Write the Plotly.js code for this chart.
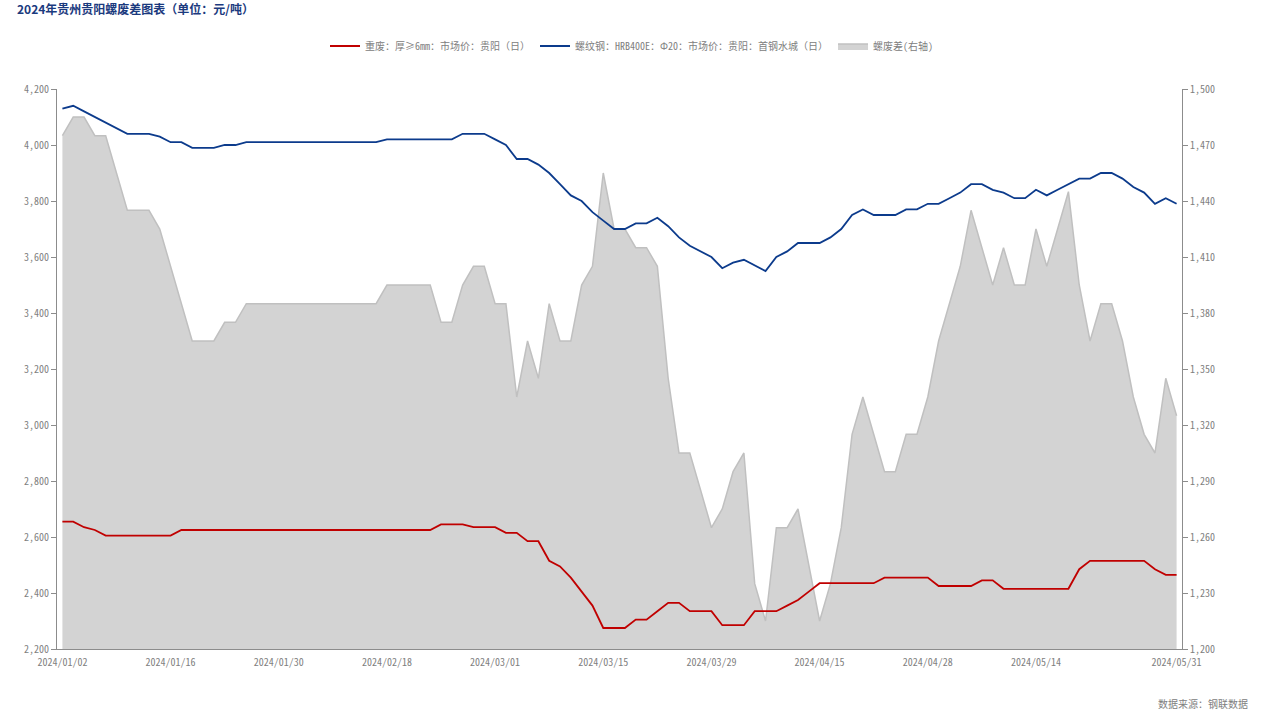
<!DOCTYPE html>
<html>
<head>
<meta charset="utf-8">
<script src="https://cdn.plot.ly/plotly-3.0.1.min.js"></script>
<style>
html, body { margin: 0; padding: 0; background: #ffffff; }
#chart { width: 1265px; height: 717px; }
</style>
</head>
<body>
<div id="chart"></div>
<script>
// ---- data ----
const dates = [
  '2024/01/02','2024/01/03','2024/01/04','2024/01/05','2024/01/08','2024/01/09','2024/01/10','2024/01/11','2024/01/12','2024/01/15',
  '2024/01/16','2024/01/17','2024/01/18','2024/01/19','2024/01/22','2024/01/23','2024/01/24','2024/01/25','2024/01/26','2024/01/29',
  '2024/01/30','2024/01/31','2024/02/01','2024/02/02','2024/02/04','2024/02/05','2024/02/06','2024/02/07','2024/02/08','2024/02/09',
  '2024/02/18','2024/02/19','2024/02/20','2024/02/21','2024/02/22','2024/02/23','2024/02/26','2024/02/27','2024/02/28','2024/02/29',
  '2024/03/01','2024/03/04','2024/03/05','2024/03/06','2024/03/07','2024/03/08','2024/03/11','2024/03/12','2024/03/13','2024/03/14',
  '2024/03/15','2024/03/18','2024/03/19','2024/03/20','2024/03/21','2024/03/22','2024/03/25','2024/03/26','2024/03/27','2024/03/28',
  '2024/03/29','2024/04/01','2024/04/02','2024/04/03','2024/04/07','2024/04/08','2024/04/09','2024/04/10','2024/04/11','2024/04/12',
  '2024/04/15','2024/04/16','2024/04/17','2024/04/18','2024/04/19','2024/04/22','2024/04/23','2024/04/24','2024/04/25','2024/04/26',
  '2024/04/28','2024/04/29','2024/04/30','2024/05/06','2024/05/07','2024/05/08','2024/05/09','2024/05/10','2024/05/11','2024/05/13',
  '2024/05/14','2024/05/15','2024/05/16','2024/05/17','2024/05/20','2024/05/21','2024/05/22','2024/05/23','2024/05/24','2024/05/27',
  '2024/05/28','2024/05/29','2024/05/30','2024/05/31'
];

// 重废：厚≥6mm：市场价：贵阳（日）
const scrapPrice = [
  2655,2655,2635,2625,2605,2605,2605,2605,2605,2605,
  2605,2625,2625,2625,2625,2625,2625,2625,2625,2625,
  2625,2625,2625,2625,2625,2625,2625,2625,2625,2625,
  2625,2625,2625,2625,2625,2645,2645,2645,2635,2635,
  2635,2615,2615,2585,2585,2515,2495,2455,2405,2355,
  2275,2275,2275,2305,2305,2335,2365,2365,2335,2335,
  2335,2285,2285,2285,2335,2335,2335,2355,2375,2405,
  2435,2435,2435,2435,2435,2435,2455,2455,2455,2455,
  2455,2425,2425,2425,2425,2445,2445,2415,2415,2415,
  2415,2415,2415,2415,2485,2515,2515,2515,2515,2515,
  2515,2485,2465,2465
];

// 螺纹钢：HRB400E：Φ20：市场价：贵阳：首钢水城（日）
const rebarPrice = [
  4130,4140,4120,4100,4080,4060,4040,4040,4040,4030,
  4010,4010,3990,3990,3990,4000,4000,4010,4010,4010,
  4010,4010,4010,4010,4010,4010,4010,4010,4010,4010,
  4020,4020,4020,4020,4020,4020,4020,4040,4040,4040,
  4020,4000,3950,3950,3930,3900,3860,3820,3800,3760,
  3730,3700,3700,3720,3720,3740,3710,3670,3640,3620,
  3600,3560,3580,3590,3570,3550,3600,3620,3650,3650,
  3650,3670,3700,3750,3770,3750,3750,3750,3770,3770,
  3790,3790,3810,3830,3860,3860,3840,3830,3810,3810,
  3840,3820,3840,3860,3880,3880,3900,3900,3880,3850,
  3830,3790,3810,3790
];

// 螺废差(右轴)
const spread = [
  1475,1485,1485,1475,1475,1455,1435,1435,1435,1425,
  1405,1385,1365,1365,1365,1375,1375,1385,1385,1385,
  1385,1385,1385,1385,1385,1385,1385,1385,1385,1385,
  1395,1395,1395,1395,1395,1375,1375,1395,1405,1405,
  1385,1385,1335,1365,1345,1385,1365,1365,1395,1405,
  1455,1425,1425,1415,1415,1405,1345,1305,1305,1285,
  1265,1275,1295,1305,1235,1215,1265,1265,1275,1245,
  1215,1235,1265,1315,1335,1315,1295,1295,1315,1315,
  1335,1365,1385,1405,1435,1415,1395,1415,1395,1395,
  1425,1405,1425,1445,1395,1365,1385,1385,1365,1335,
  1315,1305,1345,1325
];

const seriesNames = [
  '重废：厚≥6mm：市场价：贵阳（日）',
  '螺纹钢：HRB400E：Φ20：市场价：贵阳：首钢水城（日）',
  '螺废差(右轴)'
];

// date labels shown on the x axis (every 10th trading day, plus the last day)
const xTickLabels = ['2024/01/02','2024/01/16','2024/01/30','2024/02/18','2024/03/01','2024/03/15',
                     '2024/03/29','2024/04/15','2024/04/28','2024/05/14','2024/05/31'];

const titleText = '2024年贵州贵阳螺废差图表（单位：元/吨）';
const sourceText = '数据来源：钢联数据';

// ---- styling ----
const monoFont = "'Noto Sans Mono CJK SC', 'DejaVu Sans Mono', monospace";
const cjkFont = "'Noto Sans Mono CJK SC', 'Noto Sans CJK SC', 'DejaVu Sans Mono', sans-serif";
const grey = '#808080';
const axisGrey = '#8c8c8c';

// tick marks between categories every 10 trading days
const boundaryTicks = [];
for (let i = 10; i < dates.length; i += 10) boundaryTicks.push(i - 0.5);

// The spread area sits on the base subplot (right axis = 'y'),
// price lines sit on the overlaid left axis ('y2') so they draw on top.
const traces = [
  {
    type: 'scatter', mode: 'lines', name: seriesNames[2],
    x: dates, y: spread, yaxis: 'y', xaxis: 'x',
    fill: 'tozeroy', fillcolor: 'rgb(211,211,211)',
    line: { color: 'rgb(192,192,192)', width: 1.5 },
    legendrank: 3, hoverinfo: 'skip'
  },
  {
    type: 'scatter', mode: 'lines', name: seriesNames[0],
    x: dates, y: scrapPrice, yaxis: 'y2', xaxis: 'x',
    line: { color: '#c00000', width: 1.8 },
    legendrank: 1, hoverinfo: 'skip'
  },
  {
    type: 'scatter', mode: 'lines', name: seriesNames[1],
    x: dates, y: rebarPrice, yaxis: 'y2', xaxis: 'x',
    line: { color: '#0c3b8c', width: 1.8 },
    legendrank: 2, hoverinfo: 'skip'
  }
];

const layout = {
  width: 1265, height: 717,
  paper_bgcolor: '#ffffff', plot_bgcolor: '#ffffff',
  margin: { l: 57, r: 83, t: 89, b: 68, pad: 0 },
  showlegend: true,
  hovermode: false,
  title: {
    text: titleText,
    x: 17 / 1265, xref: 'container', xanchor: 'left',
    y: 1 - 10 / 717, yref: 'container', yanchor: 'middle',
    font: { family: "'Noto Sans CJK SC', sans-serif", size: 12, color: '#1b3a7e', weight: 'bold' }
  },
  legend: {
    orientation: 'h',
    x: (632 - 57) / 1125, xanchor: 'center',
    y: (649 - 46) / 560, yanchor: 'middle',
    font: { family: cjkFont, size: 10, color: grey },
    bgcolor: 'rgba(0,0,0,0)',
    traceorder: 'normal'
  },
  xaxis: {
    type: 'category',
    range: [-0.5, dates.length - 0.5],
    tickmode: 'array', tickvals: xTickLabels, ticktext: xTickLabels,
    ticks: '', showgrid: false, zeroline: false,
    showline: true, linecolor: axisGrey, linewidth: 1,
    tickfont: { family: monoFont, size: 10, color: grey },
    ticklabelstandoff: 4,
    tickangle: 0
  },
  xaxis2: {
    type: 'linear', overlaying: 'x', anchor: 'y', side: 'bottom',
    range: [-0.5, dates.length - 0.5],
    tickmode: 'array', tickvals: boundaryTicks,
    showticklabels: false, ticks: 'outside', ticklen: 4, tickcolor: axisGrey, tickwidth: 1,
    showgrid: false, zeroline: false, showline: false
  },
  // right axis: spread
  yaxis: {
    side: 'right', anchor: 'x',
    range: [1200, 1500], dtick: 30, tick0: 1200,
    tickformat: ',d',
    ticks: 'outside', ticklen: 5, tickcolor: axisGrey, tickwidth: 1,
    showline: true, linecolor: axisGrey, linewidth: 1,
    showgrid: false, zeroline: false,
    tickfont: { family: monoFont, size: 10, color: grey }
  },
  // left axis: prices
  yaxis2: {
    overlaying: 'y', side: 'left', anchor: 'x',
    range: [2200, 4200], dtick: 200, tick0: 2200,
    tickformat: ',d',
    ticks: 'outside', ticklen: 5, tickcolor: axisGrey, tickwidth: 1,
    showline: true, linecolor: axisGrey, linewidth: 1,
    showgrid: false, zeroline: false,
    tickfont: { family: monoFont, size: 10, color: grey }
  },
  annotations: [
    {
      text: sourceText, showarrow: false,
      xref: 'paper', yref: 'paper',
      x: (1250 - 57) / 1125, xanchor: 'right',
      y: (649 - 703) / 560, yanchor: 'middle',
      font: { family: cjkFont, size: 10, color: grey }
    }
  ]
};

Plotly.newPlot('chart', traces, layout, { displayModeBar: false, staticPlot: true });
</script>
</body>
</html>
